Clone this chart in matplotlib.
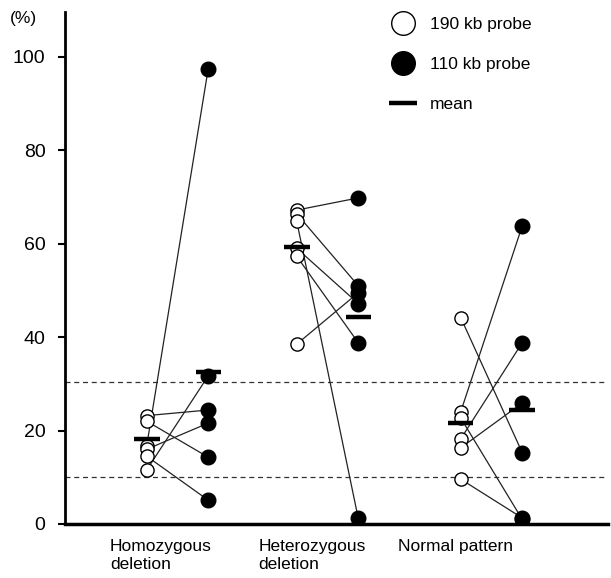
import matplotlib
matplotlib.use("Agg")
import matplotlib.pyplot as plt
from matplotlib.lines import Line2D

plt.rcParams['font.family'] = ['Liberation Sans', 'DejaVu Sans']

# Categories and paired measurements (190 kb probe -> 110 kb probe), in %
categories = ["Homozygous\ndeletion", "Heterozygous\ndeletion", "Normal pattern"]

homo_190 = [23.2, 22.0, 16.8, 16.0, 14.5, 11.6]
homo_110 = [24.4, 14.3, 97.5, 21.6, 5.1, 31.7]

hetero_190 = [67.2, 66.4, 64.8, 59.0, 57.3, 38.5]
hetero_110 = [69.8, 51.0, 1.2, 47.2, 38.8, 49.5]

normal_190 = [44.2, 24.0, 22.7, 18.2, 16.3, 9.6]
normal_110 = [15.3, 63.8, 1.0, 38.8, 25.9, 1.3]

mean_190 = [18.2, 59.3, 21.7]
mean_110 = [32.5, 44.3, 24.5]

cutoffs = [30.3, 10.0]
y_ticks = [0, 20, 40, 60, 80, 100]

groups_190 = [homo_190, hetero_190, normal_190]
groups_110 = [homo_110, hetero_110, normal_110]

# layout
centers = [0.75, 1.75, 2.843]
offset = 0.205
label_pos = [0.64, 1.647, 2.6]

fig = plt.figure(figsize=(6.11, 5.78), dpi=100)
ax = fig.add_axes([65 / 611, 1 - 524 / 578, 543 / 611, 512 / 578])
ax.set_xlim(0, 543 / 150)
ax.set_ylim(0, 109.6)

for y in cutoffs:
    ax.axhline(y, color='#333333', lw=0.9, ls=(0, (4, 3)), zorder=1)

for c, g190, g110 in zip(centers, groups_190, groups_110):
    x0, x1 = c - offset, c + offset
    for a, b in zip(g190, g110):
        ax.plot([x0, x1], [a, b], color='#222222', lw=0.9, zorder=2)
    ax.plot([x0] * len(g190), g190, 'o', ms=9.5, mfc='white', mec='black',
            mew=1.0, ls='none', zorder=3)
    ax.plot([x1] * len(g110), g110, 'o', ms=10.5, mfc='black', mec='black',
            ls='none', zorder=3)

bar_half = 0.085
for c, m0, m1 in zip(centers, mean_190, mean_110):
    for x, m in ((c - offset, m0), (c + offset, m1)):
        ax.plot([x - bar_half, x + bar_half], [m, m], color='black', lw=3.2,
                solid_capstyle='butt', zorder=4)

for s in ('top', 'right'):
    ax.spines[s].set_visible(False)
ax.spines['left'].set_linewidth(2.0)
ax.spines['bottom'].set_linewidth(2.5)

ax.set_yticks(y_ticks)
ax.tick_params(axis='y', length=5, width=1.5, pad=9, labelsize=14)
ax.set_xticks(label_pos)
ax.set_xticklabels(categories, fontsize=12.5, multialignment='left')
ax.tick_params(axis='x', length=0, pad=11)

fig.text(10 / 611, 1 - 19 / 578, "(%)", fontsize=12.5, va='center', ha='left')

handles = [
    Line2D([], [], marker='o', ls='none', mfc='white', mec='black', mew=1.0, ms=17),
    Line2D([], [], marker='o', ls='none', mfc='black', mec='black', ms=17),
    Line2D([], [], color='black', lw=3.2, solid_capstyle='butt'),
]
ax.legend(handles, ["190 kb probe", "110 kb probe", "mean"], frameon=False,
          fontsize=12.5, handlelength=1.6, handletextpad=0.75, labelspacing=1.43,
          loc='upper left', bbox_to_anchor=(382 / 611, 1 - 10 / 578),
          bbox_transform=fig.transFigure, borderpad=0.4, borderaxespad=0)

fig.savefig("out.png", dpi=100)
